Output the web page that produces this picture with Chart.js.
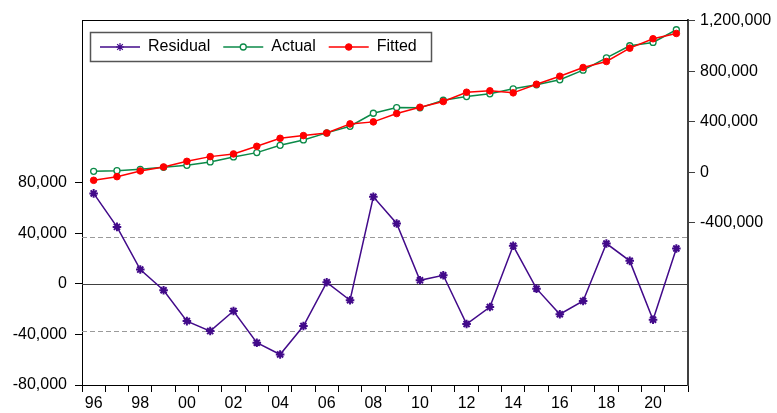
<!DOCTYPE html>
<html>
<head>
<meta charset="utf-8">
<script src="https://cdn.jsdelivr.net/npm/chart.js@4.4.1/dist/chart.umd.min.js"></script>
<style>
html,body{margin:0;padding:0;background:#fff;}
#c{display:block;}
</style>
</head>
<body>
<canvas id="c" width="777" height="413"></canvas>
<script>
const years = ['96','97','98','99','00','01','02','03','04','05','06','07','08','09','10','11','12','13','14','15','16','17','18','19','20','21'];
const residual = [71700,45200,11400,-5000,-29400,-37300,-21400,-46500,-55800,-33300,1300,-12900,69000,47900,2900,6900,-31700,-18300,30200,-3700,-24000,-13500,32000,18300,-28300,28100];
const actual = [7900,13500,23800,39600,55400,82400,122000,156000,213900,256600,312000,364400,467300,512500,510000,570300,599600,621000,660600,692000,731900,808000,906100,1001200,1027300,1127900];
const fitted = [-63000,-34000,11000,42800,87100,124400,145700,206000,269300,290700,311000,383000,399200,465000,515000,560000,633700,644800,628900,697000,760400,829300,876800,982200,1056600,1098600];
const leftTicks = [-80000,-40000,0,40000,80000];
const rightTicks = [-400000,0,400000,800000,1200000];
const seBand = 36900;

const FONT = {family:"'Liberation Sans', Arial, sans-serif", size:16};
const fmt = v => Number(v).toLocaleString('en-US');

const framePlugin = {
  id:'frame',
  beforeDatasetsDraw(chart){
    const {ctx, chartArea:a} = chart;
    const yl = chart.scales.yL;
    ctx.save();
    const y0 = Math.round(yl.getPixelForValue(0))+0.5;
    ctx.strokeStyle='#404040'; ctx.lineWidth=1;
    ctx.beginPath(); ctx.moveTo(a.left,y0); ctx.lineTo(a.right,y0); ctx.stroke();
    ctx.strokeStyle='#9a9a9a'; ctx.setLineDash([5,3]);
    [seBand,-seBand].forEach(v=>{
      const y = Math.round(yl.getPixelForValue(v))+0.5;
      ctx.beginPath(); ctx.moveTo(a.left,y); ctx.lineTo(a.right,y); ctx.stroke();
    });
    ctx.setLineDash([]);
    ctx.strokeStyle='#000'; ctx.lineWidth=1;
    ctx.beginPath(); ctx.moveTo(a.left,a.top+0.5); ctx.lineTo(a.right,a.top+0.5); ctx.stroke();
    ctx.restore();
  },
  afterDraw(chart){
    const {ctx} = chart;
    ctx.save();
    const bx=90, by=32, bw=341, bh=29;
    ctx.fillStyle='#fff'; ctx.fillRect(bx,by,bw,bh);
    ctx.strokeStyle='#555'; ctx.lineWidth=1.5;
    ctx.strokeRect(bx+0.5,by+0.5,bw,bh);
    ctx.font = `${FONT.size}px ${FONT.family}`;
    ctx.textBaseline='middle';
    let x = 100; const cy = by + bh/2 + 0.5;
    const ds = chart.data.datasets.slice().sort((p,q)=>p.legendIndex-q.legendIndex);
    ds.forEach(d=>{
      ctx.strokeStyle=d.borderColor; ctx.lineWidth=1.5;
      ctx.beginPath(); ctx.moveTo(x,cy); ctx.lineTo(x+40,cy); ctx.stroke();
      ctx.fillStyle=d.pointBackgroundColor; ctx.strokeStyle=d.borderColor;
      ctx.lineWidth=d.legendBorder;
      Chart.helpers.drawPoint(ctx,{pointStyle:d.pointStyle,radius:d.legendRadius,borderWidth:d.legendBorder,rotation:0},x+20,cy);
      ctx.fillStyle='#000';
      ctx.fillText(d.label,x+48,cy);
      x += 48 + ctx.measureText(d.label).width + 13;
    });
    ctx.restore();
  }
};

new Chart(document.getElementById('c'),{
  type:'line',
  data:{
    labels: years,
    datasets:[
      {label:'Residual', legendIndex:0, legendRadius:4, legendBorder:1.2, data:residual, yAxisID:'yL', order:2,
       borderColor:'#420A8A', borderWidth:1.5, pointStyle:'star', pointRadius:4.3, pointBorderWidth:2,
       pointBackgroundColor:'#420A8A', pointBorderColor:'#420A8A', tension:0},
      {label:'Actual', legendIndex:1, legendRadius:3, legendBorder:1.3, data:actual, yAxisID:'yR', order:1,
       borderColor:'#0B8A48', borderWidth:1.5, pointStyle:'circle', pointRadius:3, pointBorderWidth:1.3,
       pointBackgroundColor:'#ffffff', pointBorderColor:'#0B8A48', tension:0},
      {label:'Fitted', legendIndex:2, legendRadius:3.3, legendBorder:1, data:fitted, yAxisID:'yR', order:0,
       borderColor:'#FF0000', borderWidth:1.5, pointStyle:'circle', pointRadius:3.3, pointBorderWidth:1,
       pointBackgroundColor:'#FF0000', pointBorderColor:'#FF0000', tension:0}
    ]
  },
  options:{
    responsive:false, animation:false, devicePixelRatio:1,
    layout:{padding:{top:20,left:0,right:0,bottom:0}},
    plugins:{legend:{display:false}, tooltip:{enabled:false}},
    elements:{line:{borderJoinStyle:'miter'}},
    scales:{
      x:{type:'category', offset:true,
         grid:{offset:true, drawOnChartArea:false, drawTicks:true, tickLength:7, color:'#000', lineWidth:1},
         border:{display:true, color:'#000', width:1},
         ticks:{autoSkip:false, maxRotation:0, minRotation:0, padding:2, color:'#000', font:FONT,
                callback:(v,i)=> i%2===0 ? years[i] : ''},
         afterFit:s=>{s.height=28;}},
      yL:{type:'linear', position:'left', min:-80000, max:209000,
          afterBuildTicks:s=>{s.ticks = leftTicks.map(v=>({value:v}));},
          grid:{drawOnChartArea:false, drawTicks:true, tickLength:7, color:'#000'},
          border:{display:true, color:'#000', width:1},
          ticks:{padding:8, color:'#000', font:FONT, callback:v=>fmt(v)},
          afterFit:s=>{s.width=82;}},
      yR:{type:'linear', position:'right', min:-1682000, max:1205000,
          afterBuildTicks:s=>{s.ticks = rightTicks.map(v=>({value:v}));},
          grid:{drawOnChartArea:false, drawTicks:true, tickLength:7, color:'#404040'},
          border:{display:true, color:'#404040', width:2},
          ticks:{padding:5, color:'#000', font:FONT, callback:v=>fmt(v)},
          afterFit:s=>{s.width=89;}}
    }
  },
  plugins:[framePlugin]
});
</script>
</body>
</html>
